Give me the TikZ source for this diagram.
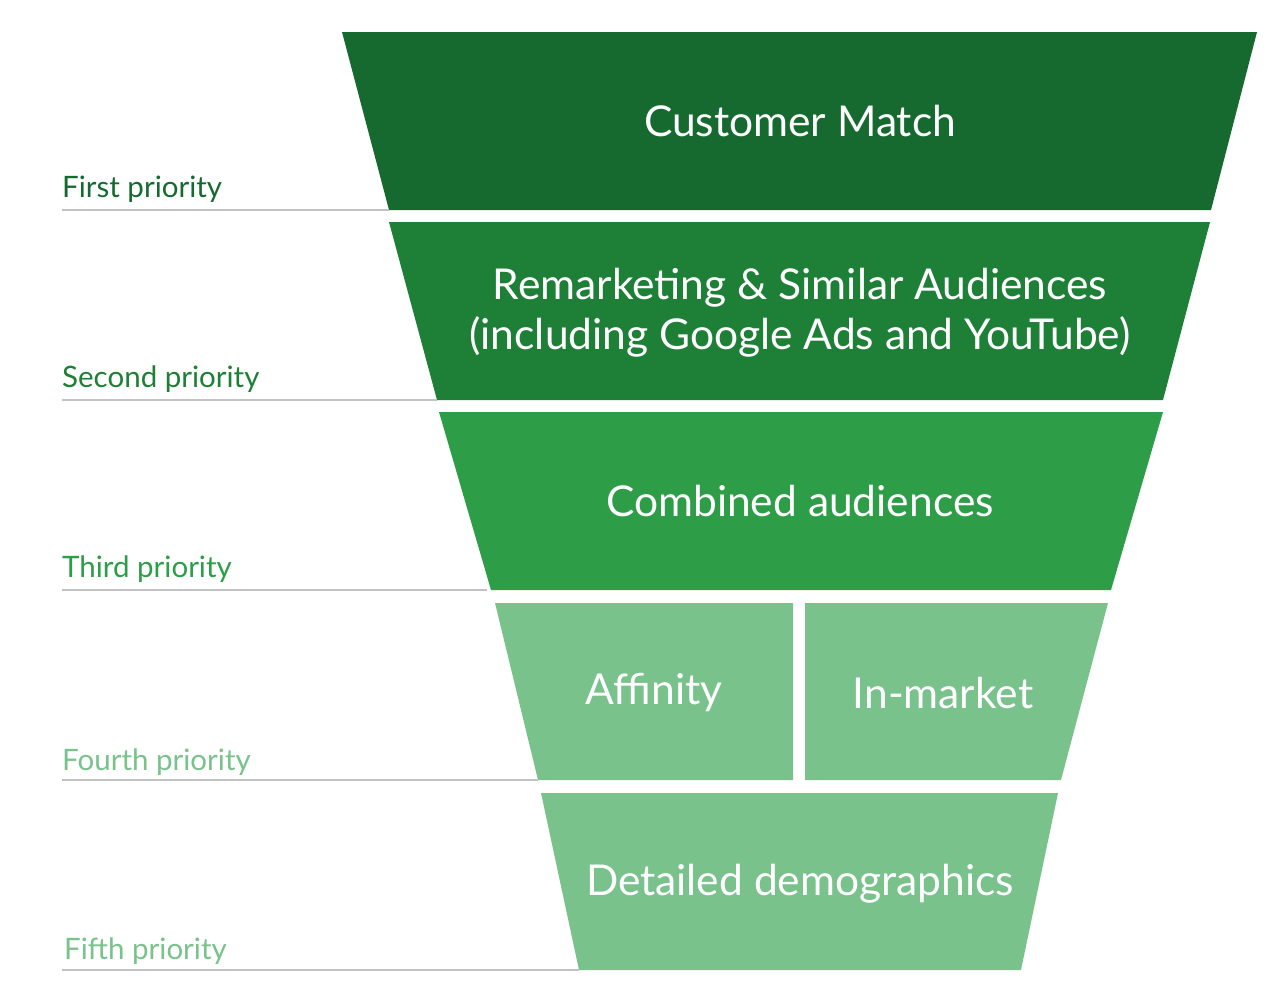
\documentclass[tikz,border=0pt]{standalone}
\usepackage{fontspec}
\setmainfont{Lato}
\usepackage{xcolor}
\usetikzlibrary{positioning}
\definecolor{prioone}{HTML}{166A2F}
\definecolor{priotwo}{HTML}{1E7F37}
\definecolor{priothree}{HTML}{2E9D48}
\definecolor{priofour}{HTML}{79C28C}
\definecolor{rulegray}{HTML}{C2C2C2}
\tikzset{
  bandtext/.style={text=white, font=\fontsize{42.5}{50}\selectfont, align=center, inner sep=0pt},
  priolabel/.style={anchor=base west, font=\fontsize{29.5}{34}\selectfont, inner sep=0pt},
  prioline/.style={draw=rulegray, line width=1.2pt}
}
\begin{document}
\begin{tikzpicture}[x=1pt,y=-1pt]
\useasboundingbox (0,0) rectangle (1280,1002);
% funnel bands
\fill[prioone] (342,32) -- (1257,32) -- (1211,210) -- (389,210) -- cycle;
\fill[priotwo] (389,222) -- (1210,222) -- (1163,400) -- (437,400) -- cycle;
\fill[priothree] (439,412) -- (1163,412) -- (1111,590) -- (491,590) -- cycle;
\fill[priofour] (495,603) -- (793,603) -- (793,780) -- (538,780) -- cycle;
\fill[priofour] (805,603) -- (1108,603) -- (1061,780) -- (805,780) -- cycle;
\fill[priofour] (541,793) -- (1058,793) -- (1021,970) -- (579,970) -- cycle;
% band texts
\node[bandtext] (match) at (800,121) {Customer Match};
\node[bandtext] (remark) at (800,313) {Remarketing \& Similar Audiences\\(including Google Ads and YouTube)};
\node[bandtext] (combined) at (800,501) {Combined audiences};
\node[bandtext] (affinity) at (654,693) {Affinity};
\node[bandtext] (inmarket) at (943,693) {In-market};
\node[bandtext] (detailed) at (800,884) {Detailed demographics};
% priority labels
\node[priolabel, text=prioone] (first) at (62,197) {First priority};
\node[priolabel, text=priotwo] (second) at (62,387) {Second priority};
\node[priolabel, text=priothree] (third) at (62,577) {Third priority};
\node[priolabel, text=priofour] (fourth) at (62,770) {Fourth priority};
\node[priolabel, text=priofour] (fifth) at (64,959) {Fifth priority};
% rule ends at band corners
\coordinate (endone) at (389,210);
\coordinate (endtwo) at (437,400);
\coordinate (endthree) at (487,590);
\coordinate (endfour) at (538,780);
\coordinate (endfive) at (579,970);
\draw[prioline] (first.base west |- endone) -- (endone);
\draw[prioline] (second.base west |- endtwo) -- (endtwo);
\draw[prioline] (third.base west |- endthree) -- (endthree);
\draw[prioline] (fourth.base west |- endfour) -- (endfour);
\draw[prioline] (62,970) -- (endfive);
\end{tikzpicture}
\end{document}
